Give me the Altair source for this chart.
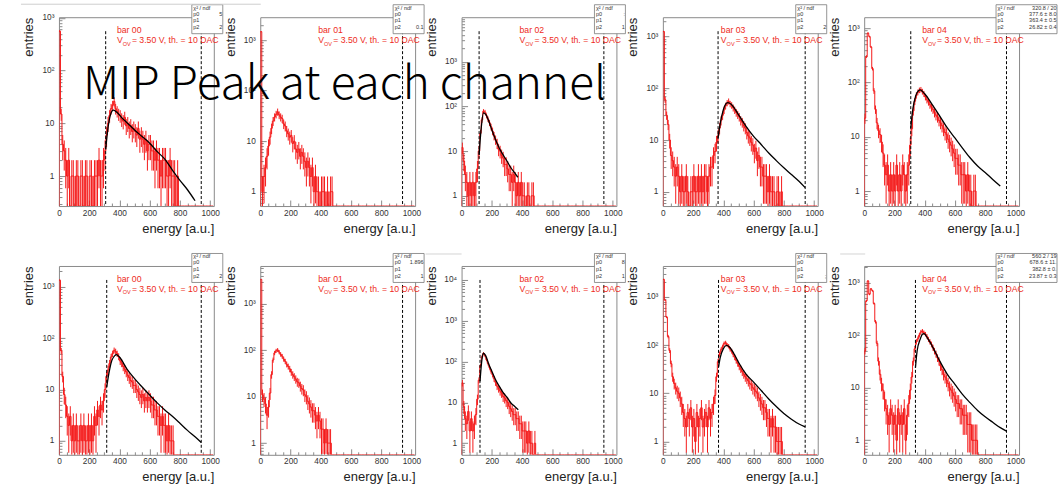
import math
import altair as alt
import pandas as pd

# ---------------- data ----------------
BINW = 10          # bin width of the histograms [a.u.]
XMAX = 1024
NB = 102           # number of bins drawn (0 .. 1020)

bar_names = ["bar 00", "bar 01", "bar 02", "bar 03", "bar 04",
             "bar 00", "bar 01", "bar 02", "bar 03", "bar 04"]

y_domains = [(0.27, 1030), (0.52, 2840), (0.59, 9900), (0.53, 2360), (0.53, 1590),
             (0.535, 2550), (0.56, 6600), (0.52, 22000), (0.53, 4350), (0.53, 2070)]

thresholds = [309, None, 116, 365, 308, 316, None, 122, 368, 339]
upper_cut = 941

counts_p1 = [560, 15, 4, 3, 2, 1, 2, 0, 1, 1,
             0, 1, 1, 0, 1, 1, 0, 1, 1, 0,
             1, 1, 0, 1, 1, 1, 2, 1, 1, 2,
             3, 6, 10, 14, 19, 22, 26, 19, 17, 15,
             14, 12, 11, 13, 9, 10, 8, 9, 7, 8,
             7, 6, 8, 5, 6, 5, 4, 5, 3, 4,
             4, 3, 3, 2, 3, 2, 2, 1, 2, 2,
             2, 1, 1, 2, 1, 1, 1, 0, 1, 0]
counts_p2 = [1470, 1, 2, 3, 5, 8, 12, 18, 25, 30,
             34, 38, 33, 30, 28, 22, 20, 16, 14, 12,
             13, 9, 10, 7, 6, 7, 5, 6, 5, 4,
             3, 4, 3, 2, 3, 1, 2, 1, 1, 0,
             1, 1, 1, 0, 1, 0, 1, 1]
counts_p3 = [12, 6, 3, 2, 1, 2, 1, 2, 1, 2,
             4, 10, 25, 50, 78, 75, 62, 52, 43, 35,
             28, 22, 18, 15, 11, 10, 8, 7, 5, 5,
             4, 3, 3, 2, 3, 2, 1, 2, 1, 2,
             1, 1, 0, 1, 1, 0, 1, 1]
counts_p4 = [1250, 60, 30, 20, 10, 5, 4, 3, 2, 3,
             2, 1, 2, 1, 1, 2, 1, 0, 1, 1,
             2, 1, 1, 2, 1, 2, 1, 2, 2, 1,
             2, 3, 3, 5, 6, 9, 12, 17, 24, 30,
             38, 46, 52, 56, 50, 47, 42, 38, 34, 31,
             28, 24, 22, 19, 17, 14, 12, 11, 9, 8,
             6, 7, 4, 5, 3, 3, 2, 2, 2, 1,
             2, 1, 1, 1, 0, 1, 1, 0, 1]
counts_p5 = [22, 300, 810, 700, 450, 180, 70, 32, 18, 13,
             11, 8, 5, 3, 2, 3, 1, 2, 1, 2,
             1, 3, 1, 2, 1, 3, 2, 1, 2, 3,
             7, 14, 30, 45, 58, 66, 72, 74, 68, 62,
             54, 48, 44, 39, 35, 32, 28, 25, 23, 20,
             18, 16, 14, 12, 11, 9, 8, 7, 6, 5,
             4, 4, 3, 3, 2, 2, 2, 1, 2, 1,
             1, 0, 1, 1, 0]
counts_p6 = [1350, 57, 18, 8, 5, 3, 2, 3, 1, 2,
             1, 2, 1, 1, 2, 1, 2, 1, 1, 2,
             1, 2, 1, 3, 2, 4, 3, 5, 4, 6,
             10, 18, 24, 32, 43, 50, 58, 55, 50, 44,
             36, 33, 28, 25, 22, 19, 17, 15, 14, 12,
             12, 10, 9, 8, 7, 8, 6, 7, 6, 7,
             6, 5, 5, 4, 4, 3, 3, 2, 3, 2,
             2, 1, 2, 1, 1, 1]
counts_p7 = [3400, 11, 9, 7, 4, 6, 12, 30, 62, 88,
             98, 102, 92, 82, 75, 65, 58, 50, 45, 40,
             34, 30, 27, 24, 21, 20, 17, 15, 14, 11,
             10, 8, 7, 6, 5, 5, 4, 3, 4, 3,
             2, 2, 1, 2, 1, 1, 1]
counts_p8 = [30, 8, 4, 3, 6, 2, 4, 2, 3, 5,
             12, 35, 80, 130, 158, 140, 112, 90, 72, 58,
             48, 38, 31, 25, 22, 19, 17, 14, 13, 11,
             10, 8, 7, 6, 5, 5, 4, 4, 3, 3,
             2, 2, 2, 1, 2, 1, 1, 0, 1]
counts_p9 = [2300, 850, 380, 150, 77, 41, 22, 16, 13, 11,
             10, 8, 6, 4, 3, 2, 4, 3, 5, 2,
             3, 1, 4, 2, 3, 5, 2, 3, 4, 2,
             5, 3, 4, 6, 9, 22, 45, 65, 80, 92,
             108, 112, 100, 95, 82, 75, 64, 56, 48, 42,
             36, 32, 28, 25, 22, 20, 18, 16, 15, 13,
             12, 11, 10, 8, 7, 6, 5, 5, 4, 3,
             3, 2, 3, 2, 2, 1, 1, 1, 1]
counts_p10 = [50, 450, 1075, 600, 760, 700, 400, 180, 70, 32,
              18, 12, 9, 6, 4, 3, 2, 4, 3, 2,
              3, 1, 4, 2, 3, 2, 4, 1, 3, 5,
              9, 16, 32, 55, 75, 85, 100, 115, 120, 112,
              105, 95, 83, 75, 67, 58, 50, 44, 37, 32,
              26, 22, 18, 16, 14, 12, 10, 9, 8, 7,
              6, 5, 5, 4, 4, 3, 3, 3, 2, 2,
              2, 1, 1, 1, 1]
all_counts = [counts_p1, counts_p2, counts_p3, counts_p4, counts_p5,
              counts_p6, counts_p7, counts_p8, counts_p9, counts_p10]

fit_x = [
    [309, 320, 340, 360, 380, 420, 450, 500, 550, 600, 650, 700, 750, 800, 850, 900],
    None,
    [116, 130, 145, 160, 180, 200, 225, 250, 275, 300, 325, 350, 372],
    [365, 380, 400, 420, 430, 450, 500, 550, 600, 650, 700, 750, 800, 850, 900, 941],
    [308, 320, 340, 360, 370, 400, 450, 500, 550, 600, 650, 700, 750, 800, 850, 900],
    [316, 330, 350, 370, 380, 400, 450, 500, 550, 600, 650, 700, 750, 800, 850, 900, 941],
    None,
    [122, 135, 145, 160, 180, 200, 225, 250, 275, 300, 325, 350, 375],
    [368, 380, 400, 420, 440, 470, 500, 550, 600, 650, 700, 750, 800, 850, 900, 941],
    [339, 350, 370, 385, 395, 420, 450, 500, 550, 600, 650, 700, 750, 800, 850, 900, 941],
]
fit_y = [
    [3.2, 6.5, 14.3, 17.8, 16.5, 12.4, 10.3, 7.5, 5.6, 4.2, 2.9, 2.1, 1.3, 0.83, 0.55, 0.34],
    None,
    [8.2, 33, 72, 66, 47, 30, 18, 11.6, 8.2, 6.0, 4.3, 3.3, 2.6],
    [11, 21.4, 38.6, 51.6, 53, 49.6, 31, 18.4, 11.8, 8.2, 5.6, 4.0, 2.9, 2.16, 1.6, 1.2],
    [14.5, 30, 56, 71, 73, 62, 39, 24, 14.5, 9.5, 6.2, 4.1, 2.9, 2.2, 1.64, 1.24],
    [11.2, 20.4, 37, 46, 48, 43, 25, 16.3, 11.2, 7.8, 5.5, 4.0, 3.0, 2.2, 1.6, 1.2, 0.93],
    None,
    [33, 115, 160, 138, 86, 58, 36, 24.6, 17.4, 13.4, 9.8, 8.0, 6.6],
    [34.8, 56, 84, 98, 91, 66, 44, 25, 17, 11.4, 7.6, 5.3, 3.8, 2.9, 2.3, 2.0],
    [24, 50, 83, 104, 107, 87, 62, 32, 18, 11.6, 7.5, 5.2, 3.7, 2.8, 2.2, 1.74, 1.5],
]

stat_labels = ["\u03c7\u00b2 / ndf", "p0", "p1", "p2"]
# fit-result columns (only what is visible; the narrow boxes are cut off)
stat_values = {
    0: ["", "5", "", "2"],
    1: ["", "", "", "0.1"],
    2: ["", ":", "", "1"],
    3: ["", "", "", "2"],
    4: ["320.8 / 20", "377.6 \u00b1 8.0", "363.4 \u00b1 0.5", "26.82 \u00b1 0.4"],
    5: ["", "", "", "2"],
    6: ["", "1.896", "", "1"],
    7: ["", "8", "", "1"],
    8: ["", "", "", ";"],
    9: ["560.2 / 19", "678.6 \u00b1 11.", "382.8 \u00b1 0.", "23.87 \u00b1 0.3"],
}
wide_boxes = [4, 9]

x_tick_values = list(range(0, 1001, 50))
title_text = "MIP Peak at each channel"
subtitle_rest = " = 3.50 V, th. = 10 DAC"

# ---------------- styling ----------------
W, H = 155, 189
FONT = "Liberation Sans"
RED = "#f41a1a"
TXT_RED = "#ee2b22"

Y_LABEL_EXPR = ("datum.value == 1 ? '1' : datum.value == 10 ? '10' : "
                "datum.value == 100 ? '10\u00b2' : datum.value == 1000 ? '10\u00b3' : "
                "datum.value == 10000 ? '10\u2074' : ''")


def y_ticks(lo, hi):
    vals = []
    for e in range(-1, 6):
        for m in range(1, 10):
            v = round(m * 10.0 ** e, 6)
            if lo <= v <= hi:
                vals.append(int(v) if v >= 1 else v)
    return vals


X_AXIS = alt.Axis(
    values=x_tick_values, format="d",
    labelExpr="datum.value % 200 == 0 ? datum.label : ''",
    tickSize={"condition": {"test": "datum.value % 200 == 0", "value": -6}, "value": -3},
    labelPadding=8, title="energy [a.u.]", titleX=W, titleY=22,
    titleAlign="right", titleBaseline="middle",
)


def y_axis(lo, hi):
    return alt.Axis(
        values=y_ticks(lo, hi), labelExpr=Y_LABEL_EXPR,
        tickSize={"condition": {"test": "indexof([1,10,100,1000,10000], datum.value) >= 0",
                                "value": -6}, "value": -3},
        labelPadding=11, title="entries", titleAngle=270, titleX=-30, titleY=0,
        titleAlign="right", titleBaseline="middle",
    )


def text_layer(txt, x, y, size, color, align="left", font=FONT, weight="normal"):
    return alt.Chart().mark_text(
        text=txt, align=align, baseline="alphabetic", fontSize=size, font=font,
        color=color, fontWeight=weight,
    ).encode(x=alt.value(x), y=alt.value(y))


def panel(i):
    lo, hi = y_domains[i]
    ya = y_axis(lo, hi)
    xs = alt.Scale(domain=[0, XMAX], nice=False, zero=False)
    ys = alt.Scale(type="log", domain=[lo, hi], nice=False)
    c = all_counts[i] + [0] * (NB - len(all_counts[i]))
    centers = [BINW * k + BINW / 2 for k in range(NB)]
    # histogram outline: step-after through bin edges, starting from the frame bottom
    edges = [0] + [BINW * k for k in range(NB)] + [BINW * NB]
    heights = [lo] + [max(v, lo) for v in c] + [max(c[-1], lo)]
    hist = pd.DataFrame({"x": edges, "y": heights, "k": list(range(len(edges)))})
    err = pd.DataFrame([{"x": centers[k], "lo": max(v - math.sqrt(v), lo),
                         "hi": v + math.sqrt(v)} for k, v in enumerate(c) if v > 0])
    X = lambda f: alt.X(f, scale=xs, axis=X_AXIS)
    Y = lambda f: alt.Y(f, scale=ys, axis=ya)
    layers = []
    layers.append(alt.Chart(err).mark_rule(color=RED, strokeWidth=1, clip=True).encode(
        x=X("x:Q"), y=Y("lo:Q"), y2="hi:Q"))
    layers.append(alt.Chart(hist).mark_line(interpolate="step-after", color=RED, strokeWidth=1,
                                            clip=True).encode(
        x=X("x:Q"), y=Y("y:Q"), order="k:Q"))
    if fit_x[i] is not None:
        fit = pd.DataFrame({"x": fit_x[i], "y": fit_y[i]})
        layers.append(alt.Chart(fit).mark_line(color="black", strokeWidth=1.3,
                                               interpolate="monotone", clip=True).encode(
            x=X("x:Q"), y=Y("y:Q")))
    cuts = [upper_cut] if thresholds[i] is None else [thresholds[i], upper_cut]
    layers.append(alt.Chart(pd.DataFrame({"x": cuts})).mark_rule(
        color="black", strokeDash=[3, 2], strokeWidth=1).encode(
        x=X("x:Q"), y=alt.value(14), y2=alt.value(H)))
    # red annotations
    layers.append(text_layer(bar_names[i], 58, 16, 8.7, TXT_RED))
    layers.append(text_layer("V", 58, 26, 8.7, TXT_RED))
    layers.append(text_layer("OV", 63.8, 28.5, 5.5, TXT_RED))
    layers.append(text_layer(subtitle_rest, 73, 26, 8.7, TXT_RED))
    # stat box
    wide = i in wide_boxes
    bx1, bx2 = (W - 23, W + 38) if wide else (W - 22, W + 9)
    layers.append(alt.Chart().mark_rect(fill="white", stroke="#7a7a7a", strokeWidth=0.8).encode(
        x=alt.value(bx1), x2=alt.value(bx2), y=alt.value(-12.5), y2=alt.value(16.5)))
    rows_y = [-7.5, -1.5, 5, 12]
    for lab, yy in zip(stat_labels, rows_y):
        layers.append(text_layer(lab, bx1 + 1.5, yy, 5.5, "#333333"))
    for val, yy in zip(stat_values[i], rows_y):
        if val:
            layers.append(text_layer(val, bx2 - 0.5, yy, 5.5, "#333333", align="right"))
    # faint borders of the neighbouring slide images
    if i == 0:
        layers.append(alt.Chart().mark_rule(color="#cfcfcf", strokeWidth=1).encode(
            x=alt.value(-38), x2=alt.value(202), y=alt.value(-13)))
    if i == 7:
        layers.append(alt.Chart().mark_rule(color="#d4d4d4", strokeWidth=1).encode(
            x=alt.value(-36), x2=alt.value(0), y=alt.value(-12)))
    if i == 9:
        layers.append(alt.Chart().mark_rule(color="#d4d4d4", strokeWidth=1).encode(
            x=alt.value(-24), x2=alt.value(1), y=alt.value(-12)))
    if i == 4:
        layers.append(text_layer(title_text, 82 - 864, 82, 46, "black",
                                 font="Noto Sans CJK SC", weight=300))
    return alt.layer(*layers).properties(width=W, height=H)


panels = [panel(i) for i in range(10)]

chart = alt.concat(
    *panels, columns=5, spacing={"row": 60, "column": 46.5}, bounds="flush"
).properties(
    padding={"left": 20, "top": 3, "right": 0, "bottom": 0}
).configure_view(
    stroke="#8a8a8a", strokeWidth=1
).configure_axis(
    domain=False, grid=False, labelFont=FONT, labelFontSize=8.3, labelColor="#333333",
    tickColor="#8a8a8a", tickWidth=1, titleFont=FONT, titleFontSize=13,
    titleFontWeight="normal", titleColor="#222222", labelOverlap=False, labelFlush=False,
)

chart.save("out.html", embed_options={"renderer": "svg", "actions": False})
